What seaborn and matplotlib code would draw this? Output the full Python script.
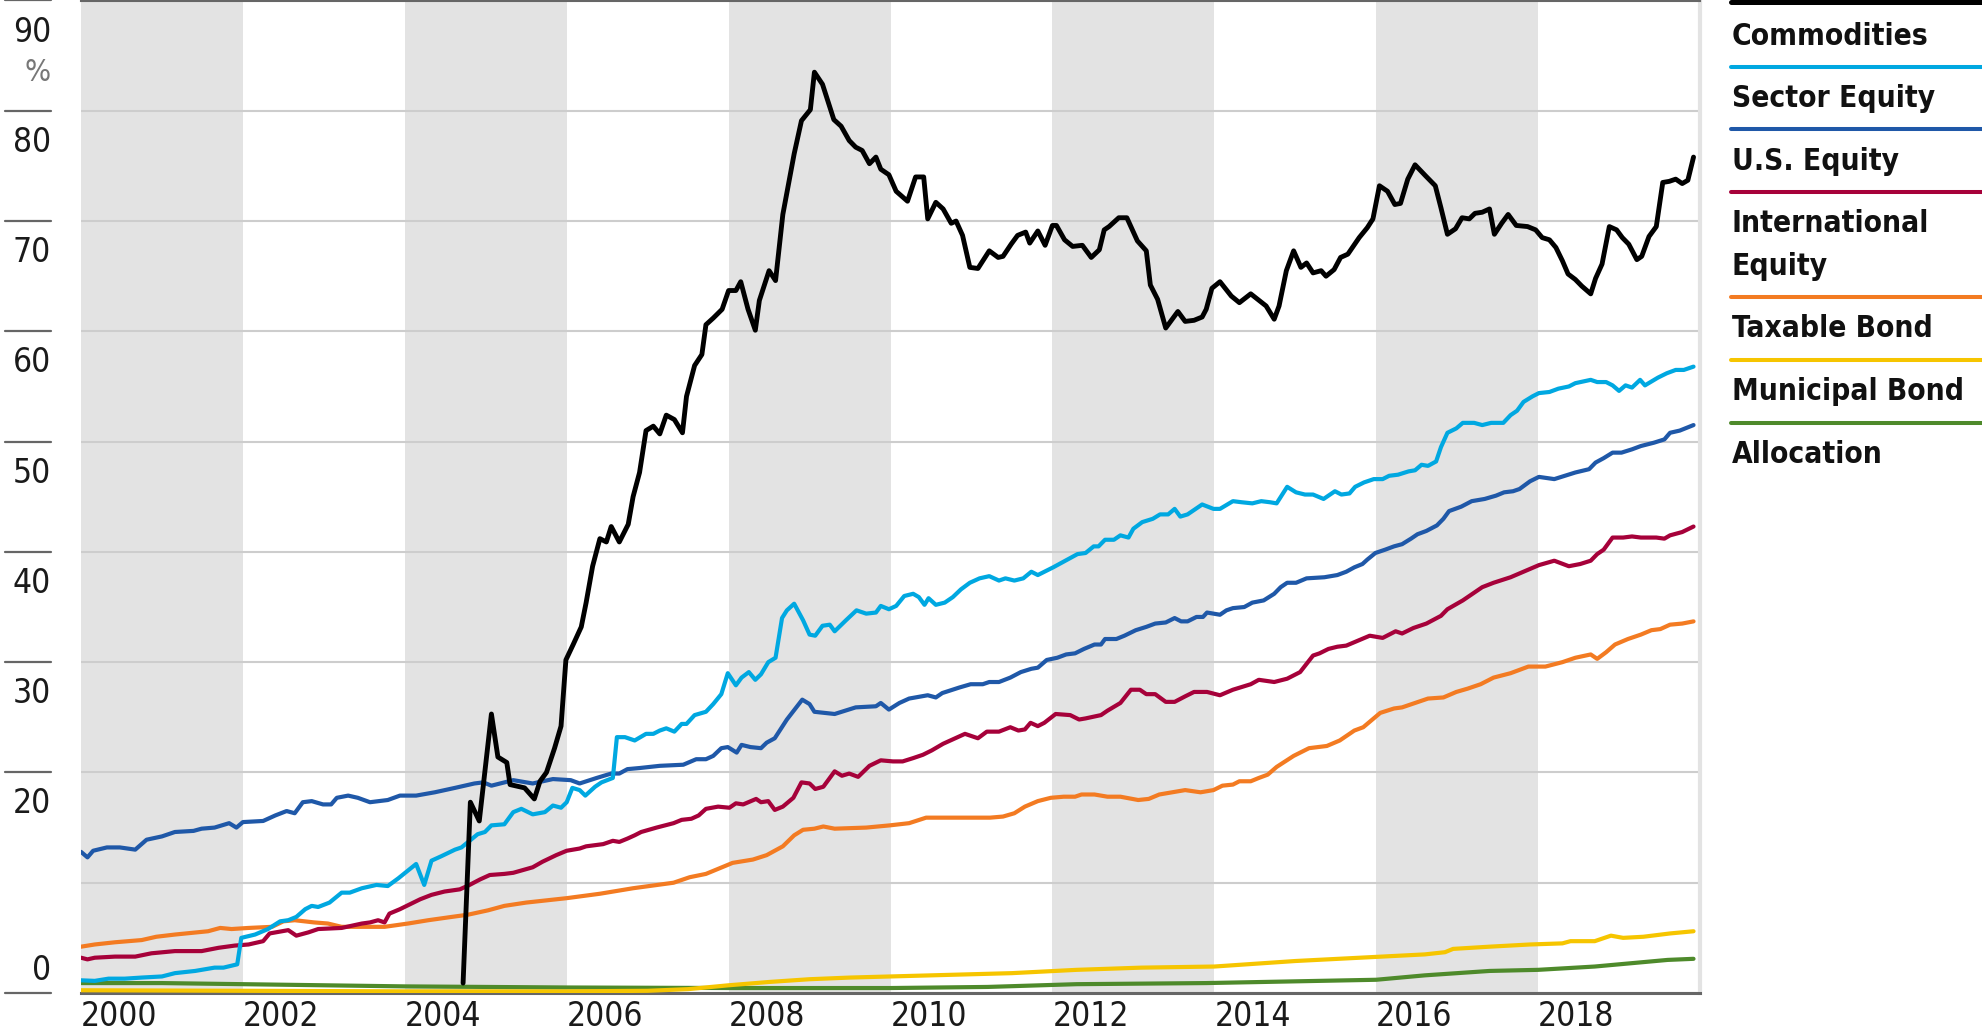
import numpy as np
import pandas as pd
import matplotlib
matplotlib.use("Agg")
import matplotlib.pyplot as plt
import matplotlib.transforms as mtrans
from matplotlib.lines import Line2D
from matplotlib import font_manager
import seaborn as sns

# ---------------- data (years after 2000, % values) ----------------
SERIES = ["Commodities", "Sector Equity", "U.S. Equity", "International Equity",
          "Taxable Bond", "Municipal Bond", "Allocation"]
COLORS = ["#000000", "#00a8e1", "#1f58a8", "#a6013a", "#f37b22", "#f6c500", "#4e8a2b"]

COMM_X = [4.72, 4.81, 4.92, 5.07, 5.15, 5.26, 5.30, 5.42, 5.48, 5.60, 5.67, 5.75, 5.85, 5.93, 5.99,
          6.08, 6.18, 6.24, 6.32, 6.41, 6.49, 6.55, 6.65, 6.76, 6.82, 6.90, 6.98, 7.07, 7.15, 7.23,
          7.33, 7.43, 7.48, 7.58, 7.67, 7.72, 7.81, 7.92, 8.00, 8.09, 8.15, 8.24, 8.33, 8.38, 8.50,
          8.58, 8.67, 8.81, 8.90, 9.01, 9.06, 9.16, 9.30, 9.39, 9.49, 9.57, 9.65, 9.74, 9.82, 9.88,
          9.98, 10.07, 10.21, 10.31, 10.41, 10.46, 10.56, 10.65, 10.75, 10.81, 10.89, 10.98, 11.08,
          11.22, 11.33, 11.39, 11.49, 11.57, 11.67, 11.72, 11.82, 11.91, 12.00, 12.05, 12.15, 12.25,
          12.37, 12.48, 12.58, 12.64, 12.70, 12.82, 12.92, 13.05, 13.16, 13.21, 13.30, 13.40, 13.55,
          13.64, 13.75, 13.85, 13.90, 13.97, 14.07, 14.21, 14.31, 14.45, 14.64, 14.74, 14.80, 14.89,
          14.98, 15.07, 15.14, 15.22, 15.32, 15.38, 15.48, 15.56, 15.65, 15.79, 15.89, 15.96, 16.04,
          16.14, 16.23, 16.30, 16.39, 16.48, 16.61, 16.73, 16.80, 16.88, 16.98, 17.06, 17.15, 17.22,
          17.31, 17.40, 17.46, 17.55, 17.63, 17.73, 17.87, 17.97, 18.05, 18.14, 18.22, 18.30, 18.37,
          18.46, 18.54, 18.65, 18.71, 18.79, 18.88, 18.97, 19.04, 19.12, 19.22, 19.28, 19.37, 19.46,
          19.54, 19.62, 19.70, 19.78, 19.85, 19.92]
COMM_Y = [0.9, 17.3, 15.6, 25.3, 21.4, 20.9, 18.9, 18.7, 18.6, 17.6, 19.2, 20.0, 22.2, 24.2, 30.2,
          31.6, 33.2, 35.4, 38.7, 41.2, 40.9, 42.3, 40.9, 42.5, 45.0, 47.2, 51.0, 51.4, 50.7, 52.4,
          52.0, 50.8, 54.1, 56.9, 57.9, 60.6, 61.2, 62.0, 63.7, 63.7, 64.5, 62.0, 60.1, 62.8, 65.5,
          64.6, 70.6, 76.1, 79.1, 80.1, 83.5, 82.4, 79.2, 78.6, 77.3, 76.7, 76.4, 75.2, 75.8, 74.7,
          74.2, 72.7, 71.8, 74.0, 74.0, 70.2, 71.7, 71.1, 69.8, 70.0, 68.7, 65.8, 65.7,
          67.3, 66.7, 66.8, 67.9, 68.7, 69.0, 68.0, 69.1, 67.8, 69.6, 69.6, 68.3, 67.7,
          67.8, 66.7, 67.4, 69.2, 69.5, 70.3, 70.3, 68.2, 67.3, 64.2, 62.9, 60.3, 61.8,
          60.9, 61.0, 61.3, 62.0, 63.9, 64.5, 63.2, 62.6, 63.4, 62.3, 61.1, 62.3, 65.5,
          67.3, 65.8, 66.2, 65.3, 65.5, 65.0, 65.6, 66.7, 67.0, 68.5, 69.4, 70.2, 73.2,
          72.7, 71.5, 71.6, 73.8, 75.1, 74.1, 73.2, 71.2, 68.8, 69.3, 70.3, 70.2, 70.7,
          70.8, 71.1, 68.8, 69.8, 70.6, 69.6, 69.5, 69.2, 68.5, 68.3, 67.6, 66.4, 65.2,
          64.7, 64.1, 63.4, 64.8, 66.1, 69.5, 69.2, 68.5, 67.9, 66.5, 66.8, 68.6, 69.5,
          73.5, 73.6, 73.8, 73.4, 73.7, 75.8]

SECT_X = [0.00, 0.17, 0.34, 0.54, 0.75, 1.00, 1.16, 1.41, 1.65, 1.76, 1.93, 1.98, 2.15, 2.31, 2.46,
          2.56, 2.66, 2.77, 2.85, 2.93, 3.07, 3.22, 3.32, 3.47, 3.65, 3.79, 3.92, 4.14, 4.24, 4.33,
          4.45, 4.62, 4.70, 4.80, 4.90, 4.99, 5.07, 5.23, 5.34, 5.44, 5.58, 5.73, 5.83, 5.93, 6.00,
          6.07, 6.16, 6.23, 6.35, 6.43, 6.57, 6.62, 6.72, 6.84, 6.98, 7.07, 7.15, 7.23, 7.33, 7.42,
          7.48, 7.58, 7.72, 7.81, 7.91, 7.99, 8.09, 8.16, 8.25, 8.33, 8.40, 8.49, 8.58, 8.66, 8.72,
          8.81, 8.92, 9.00, 9.07, 9.16, 9.25, 9.31, 9.45, 9.58, 9.70, 9.82, 9.88, 9.98, 10.07, 10.17,
          10.28, 10.35, 10.42, 10.47, 10.56, 10.67, 10.77, 10.87, 10.98, 11.10, 11.22, 11.34, 11.42,
          11.53, 11.64, 11.74, 11.82, 12.01, 12.31, 12.41, 12.51, 12.57, 12.65, 12.76, 12.84, 12.94,
          13.00, 13.11, 13.24, 13.33, 13.43, 13.51, 13.58, 13.67, 13.85, 13.99, 14.07, 14.23, 14.34,
          14.47, 14.58, 14.69, 14.77, 14.90, 15.01, 15.12, 15.22, 15.35, 15.49, 15.57, 15.67, 15.74,
          15.85, 15.97, 16.08, 16.16, 16.27, 16.40, 16.48, 16.56, 16.64, 16.74, 16.80, 16.88, 16.99,
          17.07, 17.21, 17.31, 17.42, 17.57, 17.66, 17.74, 17.82, 17.93, 18.01, 18.14, 18.25, 18.38,
          18.46, 18.65, 18.73, 18.84, 18.92, 19.00, 19.08, 19.16, 19.26, 19.32, 19.48, 19.59, 19.70,
          19.80, 19.92]
SECT_Y = [1.15, 1.1, 1.3, 1.3, 1.4, 1.5, 1.8, 2.0, 2.3, 2.3, 2.6, 5.0, 5.3, 5.8, 6.5,
          6.6, 6.9, 7.6, 7.9, 7.8, 8.2, 9.1, 9.1, 9.5, 9.8, 9.7, 10.4, 11.7, 9.8, 12.0,
          12.4, 13.0, 13.2, 13.8, 14.4, 14.6, 15.2, 15.3, 16.4, 16.7, 16.2, 16.4, 17.0, 16.8, 17.3,
          18.6, 18.4, 17.9, 18.7, 19.1, 19.5, 23.2, 23.2, 22.9, 23.5, 23.5, 23.8, 24.0, 23.7, 24.4,
          24.4, 25.2, 25.5, 26.2, 27.1, 29.0, 27.9, 28.6, 29.1, 28.4, 28.9, 30.0, 30.4, 34.0, 34.7,
          35.3, 33.8, 32.5, 32.4, 33.3, 33.4, 32.8, 33.8, 34.7, 34.4, 34.5, 35.1, 34.8, 35.1, 36.0,
          36.2, 35.9, 35.2, 35.8, 35.2, 35.4, 35.9, 36.6, 37.2, 37.6, 37.8, 37.4, 37.6,
          37.4, 37.6, 38.2, 37.9, 38.6, 39.8, 39.9, 40.5, 40.5, 41.1, 41.1, 41.5, 41.3,
          42.1, 42.7, 43.0, 43.4, 43.4, 43.9, 43.2, 43.4, 44.3, 43.9, 43.9, 44.6, 44.5,
          44.4, 44.6, 44.5, 44.4, 45.9, 45.4, 45.2, 45.2, 44.8, 45.5, 45.2, 45.3, 45.9,
          46.3, 46.6, 46.6, 46.9, 47.0, 47.3, 47.4, 47.9, 47.8, 48.2, 49.5, 50.8, 51.2,
          51.7, 51.7, 51.5, 51.7, 51.7, 52.4, 52.8, 53.6, 54.1, 54.4, 54.5, 54.8, 55.0,
          55.3, 55.6, 55.4, 55.4, 55.1, 54.6, 55.1, 54.9, 55.6, 55.1, 55.8, 56.2, 56.5,
          56.5, 56.8]

US_X = [0.00, 0.08, 0.15, 0.32, 0.48, 0.67, 0.81, 1.00, 1.16, 1.39, 1.49, 1.65, 1.83, 1.92, 2.00,
        2.25, 2.40, 2.54, 2.64, 2.74, 2.85, 2.99, 3.09, 3.16, 3.30, 3.42, 3.57, 3.79, 3.94, 4.14,
        4.37, 4.62, 4.86, 4.97, 5.07, 5.23, 5.34, 5.58, 5.83, 6.05, 6.16, 6.37, 6.55, 6.65, 6.75,
        6.90, 7.15, 7.44, 7.60, 7.72, 7.81, 7.91, 7.99, 8.10, 8.16, 8.27, 8.40, 8.47, 8.57, 8.72,
        8.91, 9.00, 9.06, 9.31, 9.57, 9.82, 9.88, 9.98, 10.11, 10.23, 10.46, 10.56, 10.64, 10.85,
        10.99, 11.14, 11.22, 11.34, 11.48, 11.61, 11.74, 11.82, 11.93, 12.06, 12.17, 12.28, 12.39,
        12.52, 12.60, 12.65, 12.79, 12.89, 13.03, 13.16, 13.27, 13.40, 13.51, 13.59, 13.67, 13.78,
        13.86, 13.91, 14.07, 14.15, 14.23, 14.37, 14.47, 14.61, 14.74, 14.82, 14.90, 15.01, 15.14,
        15.36, 15.52, 15.63, 15.73, 15.83, 15.89, 15.99, 16.11, 16.22, 16.32, 16.43, 16.51, 16.62,
        16.75, 16.83, 16.90, 17.05, 17.18, 17.34, 17.48, 17.58, 17.69, 17.77, 17.90, 18.01, 18.20,
        18.33, 18.46, 18.63, 18.71, 18.81, 18.92, 19.03, 19.16, 19.27, 19.43, 19.56, 19.63, 19.75,
        19.92]
US_Y = [12.8, 12.3, 12.9, 13.2, 13.2, 13.0, 13.9, 14.2, 14.6, 14.7, 14.9, 15.0, 15.4, 15.0, 15.5,
        15.6, 16.1, 16.5, 16.3, 17.3, 17.4, 17.1, 17.1, 17.7, 17.9, 17.7, 17.3, 17.5, 17.9, 17.9,
        18.2, 18.6, 19.0, 19.1, 18.8, 19.1, 19.3, 19.0, 19.4, 19.3, 19.0, 19.5, 19.9, 19.9, 20.3,
        20.4, 20.6, 20.7, 21.2, 21.2, 21.5, 22.2, 22.3, 21.8, 22.5, 22.3, 22.2, 22.7, 23.1, 24.8,
        26.6, 26.2, 25.5, 25.3, 25.9, 26.0, 26.3, 25.7, 26.3, 26.7, 27.0, 26.8, 27.2, 27.7,
        28.0, 28.0, 28.2, 28.2, 28.6, 29.1, 29.4, 29.5, 30.2, 30.4, 30.7, 30.8, 31.2,
        31.6, 31.6, 32.1, 32.1, 32.4, 32.9, 33.2, 33.5, 33.6, 34.0, 33.7, 33.7, 34.1,
        34.1, 34.5, 34.3, 34.7, 34.9, 35.0, 35.4, 35.6, 36.2, 36.8, 37.2, 37.2, 37.6,
        37.7, 37.9, 38.2, 38.6, 38.9, 39.3, 39.9, 40.2, 40.5, 40.7, 41.2, 41.6, 41.9,
        42.4, 43.0, 43.7, 44.1, 44.6, 44.8, 45.1, 45.4, 45.5, 45.7, 46.4, 46.8, 46.6,
        46.9, 47.2, 47.5, 48.1, 48.5, 49.0, 49.0, 49.3, 49.6, 49.9, 50.2, 50.8, 51.0,
        51.5]

INTL_X = [0.00, 0.08, 0.17, 0.42, 0.67, 0.87, 1.16, 1.49, 1.70, 1.90, 2.07, 2.25, 2.33, 2.56, 2.66,
          2.81, 2.93, 3.22, 3.47, 3.57, 3.67, 3.75, 3.81, 3.94, 4.08, 4.19, 4.33, 4.49, 4.68, 4.80,
          4.93, 5.05, 5.23, 5.34, 5.58, 5.70, 5.87, 6.00, 6.16, 6.24, 6.45, 6.57, 6.65, 6.75, 6.84,
          6.92, 7.11, 7.32, 7.42, 7.54, 7.63, 7.72, 7.87, 8.01, 8.09, 8.18, 8.34, 8.40, 8.49, 8.57,
          8.67, 8.80, 8.90, 9.00, 9.07, 9.17, 9.31, 9.40, 9.49, 9.60, 9.74, 9.88, 10.03, 10.15,
          10.28, 10.40, 10.51, 10.65, 10.77, 10.92, 11.08, 11.19, 11.34, 11.48, 11.58, 11.66, 11.73,
          11.82, 11.90, 12.04, 12.22, 12.33, 12.41, 12.60, 12.68, 12.84, 12.97, 13.08, 13.16, 13.27,
          13.40, 13.51, 13.64, 13.75, 13.91, 14.07, 14.23, 14.45, 14.55, 14.74, 14.90, 15.06, 15.22,
          15.30, 15.41, 15.52, 15.63, 15.76, 15.92, 16.08, 16.24, 16.32, 16.46, 16.62, 16.80, 16.88,
          17.07, 17.31, 17.45, 17.66, 17.82, 18.01, 18.20, 18.38, 18.52, 18.65, 18.73, 18.81, 18.92,
          19.05, 19.16, 19.27, 19.46, 19.56, 19.63, 19.78, 19.92]
INTL_Y = [3.2, 3.05, 3.2, 3.3, 3.3, 3.6, 3.8, 3.8, 4.1, 4.3, 4.4, 4.7, 5.4, 5.7, 5.2,
          5.5, 5.8, 5.9, 6.3, 6.4, 6.6, 6.4, 7.2, 7.6, 8.1, 8.5, 8.9, 9.2, 9.4, 9.8,
          10.3, 10.7, 10.8, 10.9, 11.4, 11.9, 12.5, 12.9, 13.1, 13.3, 13.5, 13.8, 13.7, 14.0, 14.3,
          14.6, 15.0, 15.4, 15.7, 15.8, 16.1, 16.7, 16.9, 16.8, 17.2, 17.1, 17.6, 17.3, 17.4, 16.6,
          16.9, 17.7, 19.1, 19.0, 18.5, 18.7, 20.1, 19.7, 19.9, 19.6, 20.6, 21.1, 21.0, 21.0,
          21.3, 21.6, 22.0, 22.6, 23.0, 23.5, 23.1, 23.7, 23.7, 24.1, 23.8, 23.9, 24.5,
          24.2, 24.5, 25.3, 25.2, 24.8, 24.9, 25.2, 25.6, 26.3, 27.5, 27.5, 27.1, 27.1,
          26.4, 26.4, 26.9, 27.3, 27.3, 27.0, 27.5, 28.0, 28.4, 28.2, 28.5, 29.1, 30.6,
          30.8, 31.2, 31.4, 31.5, 31.9, 32.4, 32.2, 32.8, 32.6, 33.1, 33.5, 34.2, 34.8,
          35.6, 36.8, 37.2, 37.7, 38.2, 38.8, 39.2, 38.7, 38.9, 39.2, 39.8, 40.2, 41.3,
          41.3, 41.4, 41.3, 41.3, 41.2, 41.5, 41.8, 42.3]

TAXB_X = [0.00, 0.17, 0.42, 0.75, 0.93, 1.16, 1.57, 1.72, 1.86, 2.07, 2.36, 2.50, 2.64, 2.88, 3.05,
          3.22, 3.47, 3.75, 4.04, 4.29, 4.58, 4.78, 5.03, 5.23, 5.50, 6.00, 6.41, 6.82, 7.32, 7.52,
          7.72, 8.05, 8.30, 8.47, 8.67, 8.81, 8.92, 9.06, 9.17, 9.31, 9.70, 9.99, 10.23, 10.44,
          10.69, 11.02, 11.23, 11.39, 11.53, 11.66, 11.82, 11.98, 12.14, 12.28, 12.36, 12.52, 12.68,
          12.84, 13.06, 13.19, 13.32, 13.48, 13.64, 13.83, 13.99, 14.10, 14.23, 14.31, 14.45, 14.55,
          14.66, 14.77, 14.98, 15.17, 15.39, 15.55, 15.73, 15.84, 16.05, 16.22, 16.32, 16.48, 16.64,
          16.83, 16.99, 17.13, 17.29, 17.45, 17.66, 17.88, 18.09, 18.30, 18.46, 18.65, 18.73, 18.84,
          18.95, 19.11, 19.27, 19.40, 19.51, 19.63, 19.78, 19.92]
TAXB_Y = [4.2, 4.4, 4.6, 4.8, 5.1, 5.3, 5.6, 5.9, 5.8, 5.9, 6.0, 6.5, 6.6, 6.4, 6.3,
          6.0, 6.0, 6.0, 6.3, 6.6, 6.9, 7.1, 7.5, 7.9, 8.2, 8.6, 9.0, 9.5, 10.0, 10.5,
          10.8, 11.8, 12.1, 12.5, 13.3, 14.3, 14.8, 14.9, 15.1, 14.9, 15.0, 15.2, 15.4, 15.9,
          15.9, 15.9, 15.9, 16.0, 16.3, 16.9, 17.4, 17.7, 17.8, 17.8, 18.0, 18.0, 17.8,
          17.8, 17.5, 17.6, 18.0, 18.2, 18.4, 18.2, 18.4, 18.8, 18.9, 19.2, 19.2, 19.5,
          19.8, 20.5, 21.5, 22.2, 22.4, 22.9, 23.8, 24.1, 25.4, 25.8, 25.9, 26.3, 26.7,
          26.8, 27.3, 27.6, 28.0, 28.6, 29.0, 29.6, 29.6, 30.0, 30.4, 30.7, 30.3, 30.9,
          31.6, 32.1, 32.5, 32.9, 33.0, 33.4, 33.5, 33.7]

MUNI_X = [0.0, 2.0, 4.0, 6.0, 7.0, 7.5, 8.0, 8.5, 9.0, 9.5, 10.0, 10.5, 11.0, 11.5, 12.3, 13.1,
          14.0, 15.0, 15.8, 16.6, 16.85, 16.95, 17.4, 17.9, 18.3, 18.4, 18.7, 18.9, 19.05, 19.3,
          19.63, 19.92]
MUNI_Y = [0.25, 0.2, 0.15, 0.15, 0.2, 0.35, 0.7, 1.0, 1.25, 1.4, 1.5, 1.6, 1.7, 1.8, 2.1, 2.3,
          2.4, 2.9, 3.2, 3.5, 3.7, 4.0, 4.2, 4.4, 4.5, 4.7, 4.7, 5.2, 5.0, 5.1,
          5.4, 5.6]

ALLOC_X = [0.0, 1.0, 2.0, 3.0, 4.0, 5.0, 6.0, 8.0, 10.0, 11.2, 12.3, 13.9, 16.0, 16.6, 17.4,
           18.0, 18.7, 19.6, 19.92]
ALLOC_Y = [0.9, 0.9, 0.8, 0.7, 0.6, 0.55, 0.5, 0.45, 0.45, 0.55, 0.8, 0.9, 1.2, 1.6, 2.0,
           2.1, 2.4, 3.0, 3.1]

YEAR_TICKS = [2000, 2002, 2004, 2006, 2008, 2010, 2012, 2014, 2016, 2018]
Y_LABELS = [90, 80, 70, 60, 50, 40, 30, 20, 0]

# ---------------- fonts ----------------
sns.set_theme(style="white")

# look for a narrow / condensed face among installed fonts
FONT, STRETCH = "DejaVu Sans", "normal"
_cands = []
for f in font_manager.fontManager.ttflist:
    fn = f.fname.lower()
    if "narrow" in fn and "liberation" in fn:
        _cands.append((0, f.name, f.stretch))
    elif "condensed" in fn and "dejavusans" in fn.replace("-", "").replace("_", "") \
            and "mono" not in fn:
        _cands.append((1, f.name, "condensed"))
    elif "condensed" in fn and "mono" not in fn:
        _cands.append((2, f.name, "condensed"))
if _cands:
    _cands.sort()
    FONT, STRETCH = _cands[0][1], _cands[0][2]
plt.rcParams["font.family"] = [FONT, "DejaVu Sans"]
plt.rcParams["font.stretch"] = STRETCH

# ---------------- figure ----------------
W, H = 1982, 1033
fig = plt.figure(figsize=(W / 100, H / 100), dpi=100)
ax = fig.add_axes([81 / W, 1 - 993 / H, (1700 - 81) / W, 992.5 / H])
renderer = fig.canvas.get_renderer()


def fit_size(sample, target_px, base, weight="normal", max_size=None):
    """font size so that `sample` renders about target_px wide"""
    t = fig.text(0, 0, sample, fontsize=base, fontweight=weight, fontstretch=STRETCH)
    w = t.get_window_extent(renderer).width
    t.remove()
    s = base * target_px / w
    if max_size is not None:
        s = min(s, max_size)
    return s


LEG_SIZE = fit_size("Municipal Bond", 232, 24, "bold", 24)
NUM_SIZE = 24

# alternating year bands
for y0 in range(2000, 2020, 4):
    ax.axvspan(y0, y0 + 2, color="#e3e3e3", lw=0, zorder=0.2)


def block(name, xs, ys):
    return pd.DataFrame({"year": 2000 + np.asarray(xs, float),
                         "value": np.asarray(ys, float), "series": name})


others = pd.concat([
    block("Allocation", ALLOC_X, ALLOC_Y),
    block("Municipal Bond", MUNI_X, MUNI_Y),
    block("Taxable Bond", TAXB_X, TAXB_Y),
    block("International Equity", INTL_X, INTL_Y),
    block("U.S. Equity", US_X, US_Y),
    block("Sector Equity", SECT_X, SECT_Y),
], ignore_index=True)
comm = block("Commodities", COMM_X, COMM_Y)
palette = dict(zip(SERIES, COLORS))

sns.lineplot(data=others, x="year", y="value", hue="series",
             hue_order=["Allocation", "Municipal Bond", "Taxable Bond",
                        "International Equity", "U.S. Equity", "Sector Equity"],
             palette=palette, estimator=None, sort=False, linewidth=3.0,
             legend=False, ax=ax, zorder=3)
sns.lineplot(data=comm, x="year", y="value", color=palette["Commodities"],
             estimator=None, sort=False, linewidth=3.5, legend=False, ax=ax, zorder=4)

ax.set_xlim(2000, 2020)
ax.set_ylim(0, 90)
ax.set_xlabel("")
ax.set_ylabel("")

# grid
ax.set_yticks(range(0, 91, 10))
ax.yaxis.grid(True, color="#cdcdcd", lw=1.5, zorder=0.5)
ax.xaxis.grid(False)
ax.tick_params(axis="y", left=False, labelleft=False)

ax.set_xticks(YEAR_TICKS)
ax.set_xticklabels([str(y) for y in YEAR_TICKS], ha="left")
ax.tick_params(axis="x", length=0, pad=5, labelsize=NUM_SIZE, labelcolor="#1a1a1a")

ax.spines["left"].set_visible(False)
ax.spines["top"].set_color("#666666")
ax.spines["top"].set_linewidth(1.5)
ax.spines["bottom"].set_color("#666666")
ax.spines["bottom"].set_linewidth(2.2)
ax.spines["right"].set_color("#e3e3e3")
ax.spines["right"].set_linewidth(3)

# y tick marks and labels left of the axes
trans = mtrans.blended_transform_factory(fig.transFigure, ax.transData)
for v in Y_LABELS:
    fig.add_artist(Line2D([5 / W, 51 / W], [v, v], transform=trans,
                          color="#666666", lw=1.6))
    yb = v - 3.72 if v != 0 else 1.18
    fig.text(51 / W, yb, str(v), transform=trans, ha="right", va="baseline",
             fontsize=NUM_SIZE, color="#1a1a1a")
fig.text(51 / W, 82.7, "%", transform=trans, ha="right", va="baseline",
         fontsize=NUM_SIZE * 0.92, color="#777777")


def fy(py):
    return 1 - py / H


# legend at the right
leg_lines = [2, 67, 129, 192, 297, 360, 423]
for name, py in zip(SERIES, leg_lines):
    lw = 3.6 if name == "Commodities" else 2.9
    fig.add_artist(Line2D([1731 / W, 1.0], [fy(py), fy(py)],
                          transform=fig.transFigure, color=palette[name], lw=lw))

leg_texts = [("Commodities", 45), ("Sector Equity", 107), ("U.S. Equity", 170),
             ("International", 232), ("Equity", 275), ("Taxable Bond", 337),
             ("Municipal Bond", 400), ("Allocation", 463)]
for txt, by in leg_texts:
    fig.text(1732 / W, fy(by), txt, ha="left", va="baseline", fontsize=LEG_SIZE,
             fontweight="bold", color="#111111")

fig.savefig("out.png", dpi=100)
